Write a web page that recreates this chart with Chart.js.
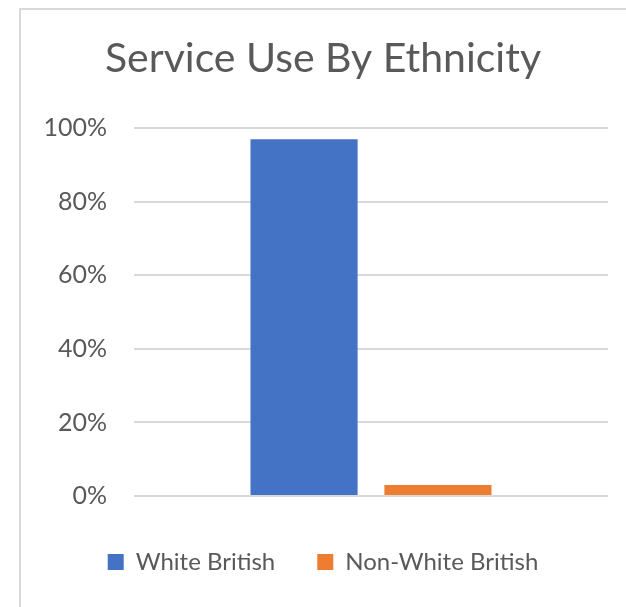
<!DOCTYPE html>
<html>
<head>
<meta charset="utf-8">
<script src="https://cdn.jsdelivr.net/npm/chart.js@4"></script>
<style>
  html, body { margin: 0; padding: 0; background: #ffffff; overflow: hidden; }
  #frame {
    position: absolute; left: 19px; top: 8px;
    width: 800px; height: 800px;
    border: 2px solid #d9d9d9; box-sizing: border-box;
  }
  #wrap { position: absolute; left: 0; top: 0; width: 626px; height: 607px; }
</style>
</head>
<body>
<div id="frame"></div>
<div id="wrap"><canvas id="chart" width="626" height="607"></canvas></div>
<script>
// Share of service users by ethnicity (percent)
const categories = [''];
const seriesNames = ['White British', 'Non-White British'];
const whiteBritish = [97];
const nonWhiteBritish = [3];
const seriesColors = ['#4472C4', '#ED7D31'];
const yTicks = [0, 20, 40, 60, 80, 100];

const FONT = "Lato, 'Open Sans', sans-serif";
const TEXT = '#595959';

new Chart(document.getElementById('chart'), {
  type: 'bar',
  data: {
    labels: categories,
    datasets: [
      { label: seriesNames[0], data: whiteBritish, backgroundColor: seriesColors[0] },
      { label: seriesNames[1], data: nonWhiteBritish, backgroundColor: seriesColors[1] }
    ]
  },
  options: {
    responsive: false,
    animation: false,
    devicePixelRatio: 1,
    layout: { padding: { left: 38, right: 18, top: 34, bottom: 23 } },
    datasets: { bar: { categoryPercentage: 0.565, barPercentage: 0.8 } },
    plugins: {
      title: {
        display: true,
        text: 'Service Use By Ethnicity',
        color: TEXT,
        font: { family: FONT, size: 41, weight: 'normal' },
        padding: { top: 0, bottom: 45 }
      },
      legend: {
        display: true,
        position: 'bottom',
        labels: {
          color: TEXT,
          font: { family: FONT, size: 24 },
          boxWidth: 16,
          boxHeight: 16,
          padding: 42
        }
      },
      tooltip: { enabled: false }
    },
    scales: {
      x: {
        display: true,
        grid: { display: false, drawTicks: false },
        border: { display: false },
        ticks: { display: false },
        afterFit: (scale) => { scale.height = 12; }
      },
      y: {
        min: 0,
        max: 100,
        afterBuildTicks: (scale) => { scale.ticks = yTicks.map(v => ({ value: v })); },
        afterFit: (scale) => { scale.width = 96; },
        grid: { color: '#d9d9d9', lineWidth: 2, drawTicks: false },
        border: { display: false },
        ticks: {
          color: TEXT,
          padding: 27,
          font: { family: FONT, size: 25 },
          callback: (v) => v + '%'
        }
      }
    }
  }
});
</script>
</body>
</html>
